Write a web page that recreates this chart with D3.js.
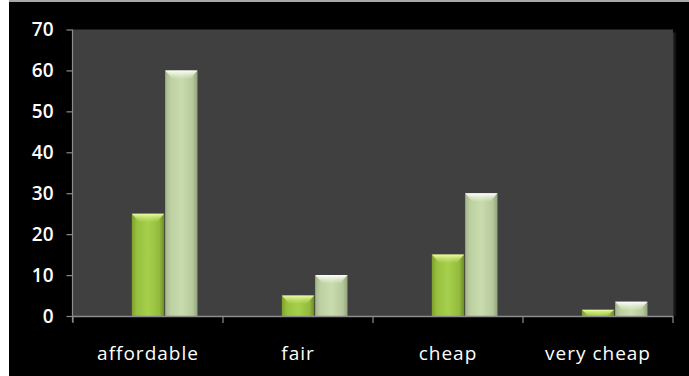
<!DOCTYPE html>
<html>
<head>
<meta charset="utf-8">
<script src="https://cdn.jsdelivr.net/npm/d3@7"></script>
<style>
  html, body { margin: 0; padding: 0; background: #ffffff; }
  svg { display: block; }
</style>
</head>
<body>
<svg id="chart" width="689" height="376"></svg>
<script>
// ---- data ----
const categories = ["affordable", "fair", "cheap", "very cheap"];
const seriesA = [25, 5, 15, 1.5];     // bright green
const seriesB = [60, 10, 30, 3.5];    // pale green
const slotKeys = ["(empty)", "A", "B"]; // clustered slots; first slot is empty in the original
const yTicks = [0, 10, 20, 30, 40, 50, 60, 70];

// ---- layout ----
const W = 689, H = 376;
const plot = { left: 73, right: 673, top: 29.5, bottom: 316 };

const svg = d3.select("#chart");
const defs = svg.append("defs");

// background: white strip left, black chart area
svg.append("rect").attr("x", 0).attr("y", 0).attr("width", W).attr("height", H).attr("fill", "#ffffff");
svg.append("rect").attr("x", 9).attr("y", 0).attr("width", W - 9).attr("height", 2).attr("fill", "#a8a8a8");
svg.append("rect").attr("x", 9).attr("y", 2).attr("width", W - 9).attr("height", H - 2).attr("fill", "#000000");

// plot area shadow + fill
const shadow = defs.append("linearGradient").attr("id", "shadowR").attr("x1", 0).attr("x2", 1).attr("y1", 0).attr("y2", 0);
shadow.append("stop").attr("offset", 0).attr("stop-color", "#2a2a2a");
shadow.append("stop").attr("offset", 1).attr("stop-color", "#000000");
svg.append("rect").attr("x", plot.right).attr("y", plot.top + 3)
  .attr("width", 4).attr("height", plot.bottom - plot.top - 3).attr("fill", "url(#shadowR)");
svg.append("rect").attr("x", plot.left).attr("y", plot.top)
  .attr("width", plot.right - plot.left).attr("height", plot.bottom - plot.top)
  .attr("fill", "#404040");

// ---- scales ----
const x = d3.scaleBand().domain(categories).range([plot.left, plot.right]).padding(0);
const xSub = d3.scaleBand().domain(slotKeys).range([0, x.bandwidth()]).paddingInner(0).paddingOuter(0.75);
const y = d3.scaleLinear().domain([0, 70]).range([plot.bottom, plot.top]);

// ---- gradients ----
function hGrad(id, stops) {
  const g = defs.append("linearGradient").attr("id", id).attr("x1", 0).attr("x2", 1).attr("y1", 0).attr("y2", 0);
  stops.forEach(s => g.append("stop").attr("offset", s[0]).attr("stop-color", s[1]));
}
hGrad("gradA", [[0, "#7e9f2c"], [0.15, "#96c03e"], [0.5, "#a6d04c"], [0.85, "#93bb3c"], [1, "#6f8c26"]]);
hGrad("gradB", [[0, "#a3b48a"], [0.15, "#bccfa0"], [0.5, "#c9dcae"], [0.85, "#b7c99c"], [1, "#93a27c"]]);
function vGrad(id, c1, c2) {
  const g = defs.append("linearGradient").attr("id", id).attr("x1", 0).attr("x2", 0).attr("y1", 0).attr("y2", 1);
  g.append("stop").attr("offset", 0).attr("stop-color", c1).attr("stop-opacity", 1);
  g.append("stop").attr("offset", 1).attr("stop-color", c2).attr("stop-opacity", 0.15);
}
vGrad("bevA", "#eefca8", "#c4e46a");
vGrad("bevB", "#ffffff", "#e8f2da");

// ---- bars ----
const seriesList = [
  { key: "A", values: seriesA, fill: "url(#gradA)", bevel: "url(#bevA)" },
  { key: "B", values: seriesB, fill: "url(#gradB)", bevel: "url(#bevB)" }
];

seriesList.forEach(s => {
  const g = svg.append("g");
  const data = categories.map((c, i) => ({ c, v: s.values[i] }));
  const bw = xSub.bandwidth() - 1;
  g.selectAll("rect").data(data).join("rect")
    .attr("x", d => x(d.c) + xSub(s.key) + 0.5)
    .attr("y", d => y(d.v))
    .attr("width", bw)
    .attr("height", d => y(0) - y(d.v))
    .attr("fill", s.fill);
  g.selectAll("path").data(data).join("path")
    .attr("d", d => {
      const x0 = x(d.c) + xSub(s.key) + 0.5;
      const y0 = y(d.v);
      const h = Math.min(8, y(0) - y0);
      const inset = Math.min(bw * 0.22, h * 1.2);
      return `M${x0},${y0} H${x0 + bw} L${x0 + bw - inset},${y0 + h} H${x0 + inset} Z`;
    })
    .attr("fill", s.bevel);
});

// ---- axes ----
const axisColor = "#8c8c8c";
const yAxis = svg.append("g").attr("transform", `translate(${plot.left - 0.5},0)`)
  .call(d3.axisLeft(y).tickValues(yTicks).tickSize(6).tickPadding(13).tickSizeOuter(0));
yAxis.select(".domain").attr("stroke", axisColor).attr("stroke-width", 1.2)
  .attr("d", `M0,${plot.top}V${plot.bottom + 6}`);
yAxis.selectAll(".tick line").attr("stroke", axisColor).attr("stroke-width", 1.2);
yAxis.selectAll(".tick text")
  .attr("fill", "#ffffff")
  .style("font-family", "'Open Sans', sans-serif")
  .style("font-weight", "600")
  .style("font-size", "19px");

const xAxis = svg.append("g").attr("transform", `translate(0,${plot.bottom})`);
xAxis.append("path").attr("d", `M${plot.left},0.5H${plot.right}`)
  .attr("stroke", axisColor).attr("stroke-width", 1.5).attr("fill", "none");
const boundaries = categories.map(c => x(c)).concat([x(categories[categories.length - 1]) + x.bandwidth()]);
xAxis.selectAll("line.b").data(boundaries).join("line")
  .attr("class", "b")
  .attr("x1", d => d).attr("x2", d => d)
  .attr("y1", 0).attr("y2", 7)
  .attr("stroke", axisColor).attr("stroke-width", 1.2);
xAxis.selectAll("text").data(categories).join("text")
  .attr("x", d => x(d) + x.bandwidth() / 2)
  .attr("y", 44)
  .attr("text-anchor", "middle")
  .attr("fill", "#ffffff")
  .style("font-family", "'Open Sans', sans-serif")
  .style("font-size", "19px")
  .style("letter-spacing", "1px")
  .text(d => d);
</script>
</body>
</html>
